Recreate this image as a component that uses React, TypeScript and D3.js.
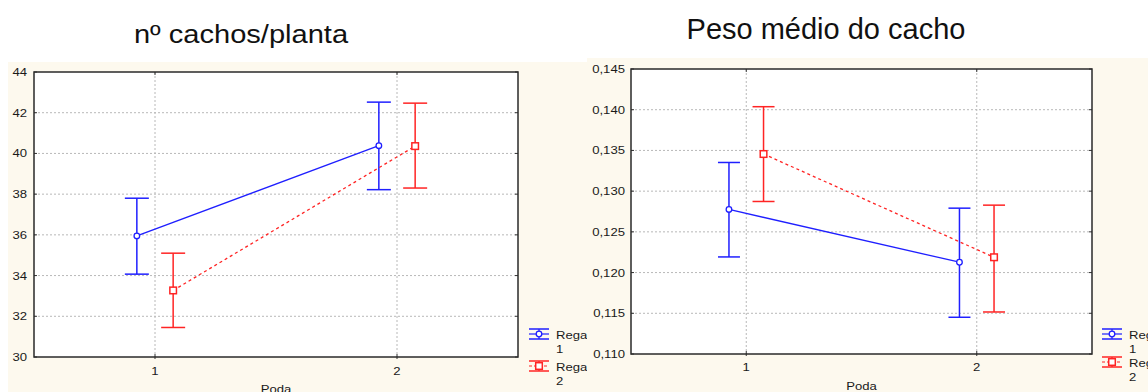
import React, { useEffect, useRef } from "react";
import * as d3 from "d3";

const podaLevels = [1, 2];
const regaLabels = ["1", "2"];

// nº cachos/planta
const cachosTicks = [30, 32, 34, 36, 38, 40, 42, 44];
const cachosRega1Mean = [35.95, 40.38];
const cachosRega1Low = [34.07, 38.22];
const cachosRega1High = [37.8, 42.52];
const cachosRega2Mean = [33.27, 40.36];
const cachosRega2Low = [31.45, 38.3];
const cachosRega2High = [35.1, 42.47];

// Peso médio do cacho
const pesoTicks = [0.11, 0.115, 0.12, 0.125, 0.13, 0.135, 0.14, 0.145];
const pesoRega1Mean = [0.12775, 0.12127];
const pesoRega1Low = [0.12192, 0.11451];
const pesoRega1High = [0.13352, 0.12791];
const pesoRega2Mean = [0.13456, 0.12188];
const pesoRega2Low = [0.12873, 0.11516];
const pesoRega2High = [0.14037, 0.12828];

const W = 1148;
const H = 392;
const CREAM = "#fdf9ee";
const BLUE = "#1f1fff";
const RED = "#ff2424";
const FONT = "'Liberation Sans', Arial, sans-serif";

const toRows = (mean, low, high) =>
    podaLevels.map((p, i) => ({ poda: p, mean: mean[i], low: low[i], high: high[i] }));

const stretchText = (g, x, y, txt, size, sx, anchor = "start") =>
    g.append("text")
        .attr("transform", `translate(${x},${y}) scale(${sx},1)`)
        .attr("font-size", size)
        .attr("font-family", FONT)
        .attr("text-anchor", anchor)
        .attr("fill", "#1a1a1a")
        .text(txt);

const drawPanel = (svg, p) => {
    const g = svg.append("g");
    const x = d3.scaleLinear().domain([0.5, 2.5]).range([p.left, p.right]);
    const y = d3.scaleLinear()
        .domain([p.ticks[0], p.ticks[p.ticks.length - 1]])
        .range([p.bottom, p.top]);

    g.append("rect")
        .attr("x", p.bgX).attr("y", p.bgY)
        .attr("width", p.bgW).attr("height", H - p.bgY)
        .attr("fill", CREAM);

    g.append("rect")
        .attr("x", p.left).attr("y", p.top)
        .attr("width", p.right - p.left).attr("height", p.bottom - p.top)
        .attr("fill", "#fff");

    // grid
    g.selectAll(".hgrid")
        .data(p.ticks.slice(1, -1))
        .join("line")
        .attr("x1", p.left).attr("x2", p.right)
        .attr("y1", d => y(d)).attr("y2", d => y(d))
        .attr("stroke", "#b8b8b8")
        .attr("stroke-dasharray", "2,2");

    g.selectAll(".vgrid")
        .data(podaLevels)
        .join("line")
        .attr("x1", d => x(d)).attr("x2", d => x(d))
        .attr("y1", p.top).attr("y2", p.bottom)
        .attr("stroke", "#b8b8b8")
        .attr("stroke-dasharray", "2,2");

    // inward ticks on all four sides
    p.ticks.forEach(t => {
        g.append("line").attr("x1", p.left).attr("x2", p.left + 3)
            .attr("y1", y(t)).attr("y2", y(t)).attr("stroke", "#333");
        g.append("line").attr("x1", p.right - 3).attr("x2", p.right)
            .attr("y1", y(t)).attr("y2", y(t)).attr("stroke", "#333");
    });
    podaLevels.forEach(d => {
        g.append("line").attr("x1", x(d)).attr("x2", x(d))
            .attr("y1", p.top).attr("y2", p.top + 3).attr("stroke", "#333");
        g.append("line").attr("x1", x(d)).attr("x2", x(d))
            .attr("y1", p.bottom - 3).attr("y2", p.bottom + 2).attr("stroke", "#333");
    });

    g.append("rect")
        .attr("x", p.left).attr("y", p.top)
        .attr("width", p.right - p.left).attr("height", p.bottom - p.top)
        .attr("fill", "none")
        .attr("stroke", "#2a2a2a")
        .attr("stroke-width", 1.5);

    // tick labels
    p.ticks.forEach(t => {
        stretchText(g, p.left - p.yLabelGap, y(t) + 4, p.fmt(t), 10.5, 1.25, "end");
    });
    podaLevels.forEach(d => {
        stretchText(g, x(d), p.bottom + p.xLabelGap, String(d), 10.5, 1.25, "middle");
    });

    stretchText(g, (p.left + p.right) / 2, p.bottom + 36, "Poda", 10.5, 1.25, "middle");

    stretchText(g, p.titleX, p.titleY, p.title, p.titleSize, p.titleSx, "middle")
        .attr("fill", "#111");

    // series
    p.series.forEach(s => {
        const line = d3.line()
            .x(d => x(d.poda + s.offset))
            .y(d => y(d.mean));

        g.append("path")
            .attr("d", line(s.rows))
            .attr("fill", "none")
            .attr("stroke", s.color)
            .attr("stroke-width", 1.3)
            .attr("stroke-dasharray", s.dashed ? "3,3" : null);

        s.rows.forEach(d => {
            const cx = x(d.poda + s.offset);
            g.append("line").attr("x1", cx).attr("x2", cx)
                .attr("y1", y(d.high)).attr("y2", y(d.low))
                .attr("stroke", s.color).attr("stroke-width", 1.5);
            [d.high, d.low].forEach(v => {
                g.append("line")
                    .attr("x1", cx - p.cap).attr("x2", cx + p.cap)
                    .attr("y1", y(v)).attr("y2", y(v))
                    .attr("stroke", s.color).attr("stroke-width", 1.5);
            });
            if (s.marker === "circle") {
                g.append("circle").attr("cx", cx).attr("cy", y(d.mean)).attr("r", 2.8)
                    .attr("fill", "#fff").attr("stroke", s.color).attr("stroke-width", 1.3);
            } else {
                g.append("rect").attr("x", cx - 3.3).attr("y", y(d.mean) - 3.3)
                    .attr("width", 6.6).attr("height", 6.6)
                    .attr("fill", "#fff").attr("stroke", s.color).attr("stroke-width", 1.5);
            }
        });
    });

    // legend
    p.series.forEach((s, i) => {
        const cy = p.legendY[i];
        const lx = p.legendX;
        const lw = 20;
        const lg = g.append("g");
        [cy - 5, cy + 5].forEach(yy => {
            lg.append("line").attr("x1", lx).attr("x2", lx + lw)
                .attr("y1", yy).attr("y2", yy).attr("stroke", s.color).attr("stroke-width", 1.5);
        });
        lg.append("line").attr("x1", lx + lw / 2).attr("x2", lx + lw / 2)
            .attr("y1", cy - 5).attr("y2", cy + 5).attr("stroke", s.color).attr("stroke-width", 1.2);
        lg.append("line").attr("x1", lx).attr("x2", lx + lw)
            .attr("y1", cy).attr("y2", cy).attr("stroke", s.color).attr("stroke-width", 1.2)
            .attr("stroke-dasharray", s.dashed ? "3,2" : null);
        if (s.marker === "circle") {
            lg.append("circle").attr("cx", lx + lw / 2).attr("cy", cy).attr("r", 2.8)
                .attr("fill", "#fff").attr("stroke", s.color).attr("stroke-width", 1.3);
        } else {
            lg.append("rect").attr("x", lx + lw / 2 - 3.3).attr("y", cy - 3.3)
                .attr("width", 6.6).attr("height", 6.6)
                .attr("fill", "#fff").attr("stroke", s.color).attr("stroke-width", 1.5);
        }
        stretchText(lg, lx + lw + 7, cy + 4.5, "Rega", 10.5, 1.25);
        stretchText(lg, lx + lw + 7, cy + 19, regaLabels[i], 10.5, 1.25);
    });
};

const App = () => {
    const ref = useRef(null);

    useEffect(() => {
        const svg = d3.select(ref.current);
        svg.selectAll("*").remove();

        drawPanel(svg, {
            bgX: 8, bgY: 62, bgW: 579,
            left: 34, right: 518, top: 72, bottom: 357,
            ticks: cachosTicks,
            fmt: d3.format("d"),
            yLabelGap: 7, xLabelGap: 18,
            title: "nº cachos/planta", titleX: 241, titleY: 43, titleSize: 25.5, titleSx: 1.14,
            cap: 12,
            legendX: 529, legendY: [334, 366],
            series: [
                { rows: toRows(cachosRega1Mean, cachosRega1Low, cachosRega1High), color: BLUE, offset: -0.075, dashed: false, marker: "circle" },
                { rows: toRows(cachosRega2Mean, cachosRega2Low, cachosRega2High), color: RED, offset: 0.075, dashed: true, marker: "square" },
            ],
        });

        drawPanel(svg, {
            bgX: 587, bgY: 58, bgW: W - 587,
            left: 631, right: 1092, top: 69, bottom: 354,
            ticks: pesoTicks,
            fmt: d => d3.format(".3f")(d).replace(".", ","),
            yLabelGap: 6, xLabelGap: 17,
            title: "Peso médio do cacho", titleX: 826, titleY: 39, titleSize: 29, titleSx: 1,
            cap: 11,
            legendX: 1102, legendY: [334, 362],
            series: [
                { rows: toRows(pesoRega1Mean, pesoRega1Low, pesoRega1High), color: BLUE, offset: -0.075, dashed: false, marker: "circle" },
                { rows: toRows(pesoRega2Mean, pesoRega2Low, pesoRega2High), color: RED, offset: 0.075, dashed: true, marker: "square" },
            ],
        });
    }, []);

    return (
        <svg
            ref={ref}
            width={W}
            height={H}
            style={{ position: "absolute", left: 0, top: 0, background: "#fff" }}
        />
    );
};

export default App;
